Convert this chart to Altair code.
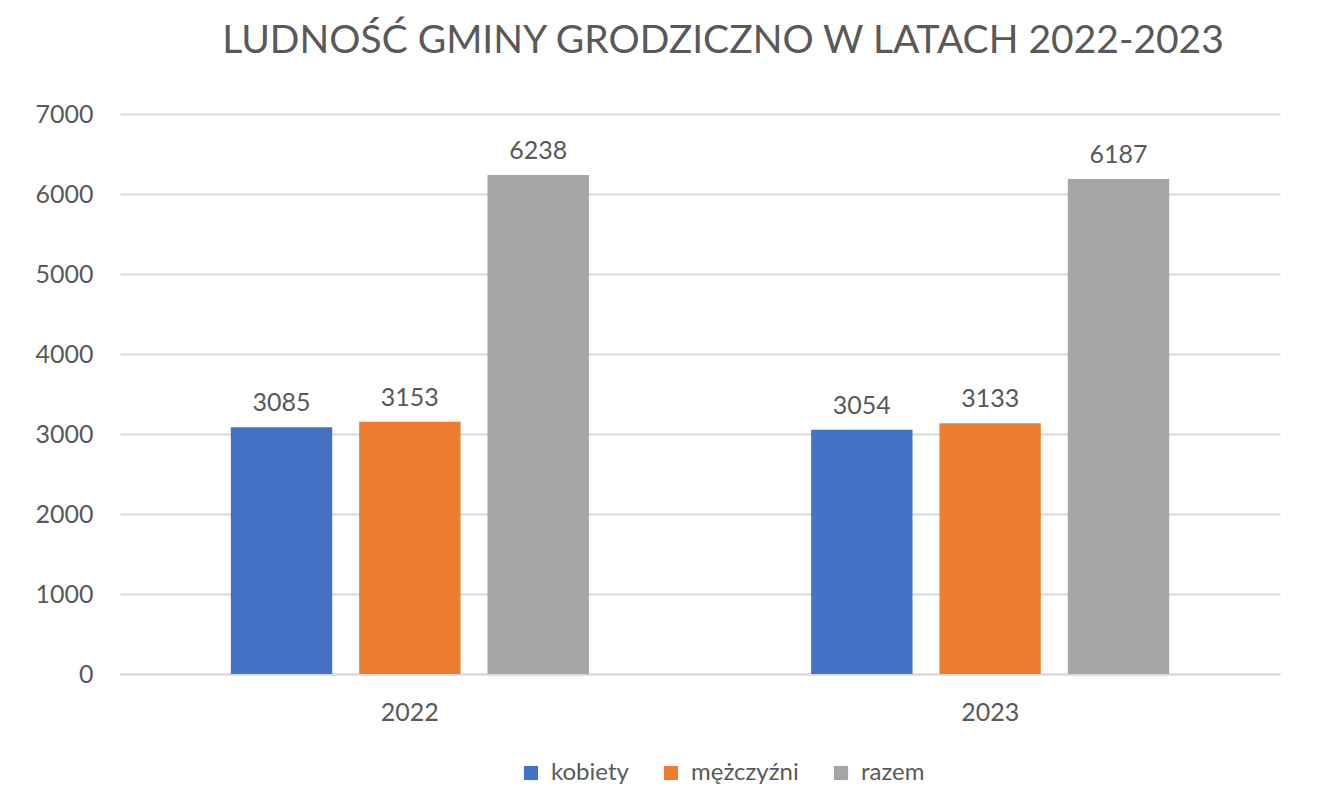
import altair as alt
import pandas as pd

years = ["2022", "2022", "2022", "2023", "2023", "2023"]
series = ["kobiety", "mężczyźni", "razem", "kobiety", "mężczyźni", "razem"]
values = [3085, 3153, 6238, 3054, 3133, 6187]

series_order = ["kobiety", "mężczyźni", "razem"]
colors = ["#4472C4", "#ED7D31", "#A5A5A5"]
y_ticks = [0, 1000, 2000, 3000, 4000, 5000, 6000, 7000]

df = pd.DataFrame({"rok": years, "seria": series, "wartosc": values})

FONT = "Lato"
TXT = "#595959"

x = alt.X("rok:N", title=None,
          scale=alt.Scale(paddingInner=0.383, paddingOuter=0.191),
          axis=alt.Axis(labelAngle=0, labelFontSize=25, labelColor=TXT, labelFont=FONT,
                        labelPadding=26, ticks=False, domainColor="#D9D9D9", domainWidth=2))
xo = alt.XOffset("seria:N", sort=series_order,
                 scale=alt.Scale(paddingInner=0.21, paddingOuter=0))
y = alt.Y("wartosc:Q", title=None,
          scale=alt.Scale(domain=[0, 7000]),
          axis=alt.Axis(values=y_ticks, format="d", labelFontSize=25, labelColor=TXT,
                        labelFont=FONT, labelPadding=27, ticks=False, domain=False,
                        gridColor="#D9D9D9", gridWidth=2))

bars = alt.Chart(df).mark_bar().encode(
    x=x, xOffset=xo, y=y,
    color=alt.Color("seria:N", sort=series_order,
                    scale=alt.Scale(domain=series_order, range=colors),
                    legend=alt.Legend(title=None, orient="none", direction="horizontal",
                                      legendX=399, legendY=647,
                                      symbolType="square", symbolSize=200,
                                      symbolStrokeWidth=0,
                                      labelFontSize=24, labelColor=TXT, labelFont=FONT,
                                      columnPadding=30, symbolOffset=0, labelOffset=8)),
)

labels = alt.Chart(df).mark_text(
    baseline="alphabetic", dy=-16, fontSize=25, color=TXT, font=FONT
).encode(x=x, xOffset=xo, y=y, text=alt.Text("wartosc:Q", format="d"))

chart = alt.layer(bars, labels).properties(
    width=1160, height=560,
    autosize=alt.AutoSizeParams(type="none"),
    padding={"left": 112, "top": 106, "right": 30, "bottom": 114},
    title=alt.TitleParams("LUDNOŚĆ GMINY GRODZICZNO W LATACH 2022-2023",
                          fontSize=39, font=FONT, color=TXT, fontWeight="normal",
                          anchor="middle", dx=23, offset=41),
).configure_view(stroke=None)

chart.save("out.html", embed_options={"renderer": "svg", "actions": False})
